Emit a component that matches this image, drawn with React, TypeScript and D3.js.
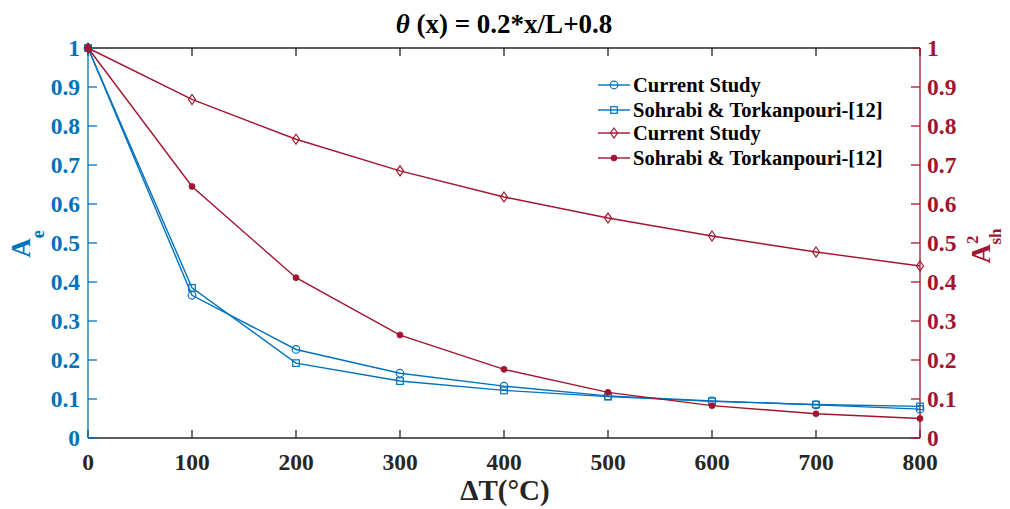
import React from "react";
import * as d3 from "d3";

const dT = [0, 100, 200, 300, 400, 500, 600, 700, 800];
const aeCurrent = [1, 0.366, 0.227, 0.166, 0.133, 0.108, 0.095, 0.085, 0.074];
const aeSohrabi = [1, 0.385, 0.192, 0.146, 0.122, 0.106, 0.094, 0.086, 0.081];
const ashCurrent = [1, 0.868, 0.766, 0.685, 0.618, 0.564, 0.518, 0.477, 0.441];
const ashSohrabi = [1, 0.645, 0.411, 0.264, 0.176, 0.117, 0.083, 0.062, 0.05];
const xTicks = [0, 100, 200, 300, 400, 500, 600, 700, 800];
const yTicks = [0, 0.1, 0.2, 0.3, 0.4, 0.5, 0.6, 0.7, 0.8, 0.9, 1];
const legendLabels = ["Current Study", "Sohrabi & Torkanpouri-[12]", "Current Study", "Sohrabi & Torkanpouri-[12]"];

const BLUE = "#0072BD";
const RED = "#A2142F";
const AX = "#262626";
const FONT = "'Liberation Serif', 'Times New Roman', serif";

const L = 88, R = 920, T = 48, B = 438;

function Marker({ kind, x, y, color }: { kind: string; x: number; y: number; color: string }) {
  if (kind === "circle") return <circle cx={x} cy={y} r={3.8} fill="none" stroke={color} strokeWidth={1.2} />;
  if (kind === "square") return <rect x={x - 3.3} y={y - 3.3} width={6.6} height={6.6} fill="none" stroke={color} strokeWidth={1.2} />;
  if (kind === "diamond") return <path d={`M${x},${y - 5}L${x + 3.5},${y}L${x},${y + 5}L${x - 3.5},${y}Z`} fill="none" stroke={color} strokeWidth={1.2} />;
  return <circle cx={x} cy={y} r={3} fill={color} stroke={color} strokeWidth={0.8} />;
}

export default function App() {
  const x = d3.scaleLinear().domain([0, 800]).range([L, R]);
  const y = d3.scaleLinear().domain([0, 1]).range([B, T]);
  const line = d3.line<number>().x((_, i) => x(dT[i])).y((d) => y(d));

  const series = [
    { data: aeCurrent, color: BLUE, kind: "circle" },
    { data: aeSohrabi, color: BLUE, kind: "square" },
    { data: ashCurrent, color: RED, kind: "diamond" },
    { data: ashSohrabi, color: RED, kind: "dot" },
  ];

  const legendY = [85, 110, 133, 158];
  const TF = 23.5;

  return (
    <svg width={1010} height={509} style={{ position: "absolute", left: 0, top: 0, background: "#fff" }} fontFamily={FONT}>
      <rect width={1010} height={509} fill="#fff" />
      {/* title */}
      <text x={504} y={33} textAnchor="middle" fontSize={27} fontWeight="bold" fill="#000">
        <tspan fontStyle="italic">θ</tspan> (x) = 0.2*x/L+0.8
      </text>
      {/* box top/bottom */}
      <line x1={L} x2={R} y1={T} y2={T} stroke={AX} strokeWidth={1.3} />
      <line x1={L} x2={R} y1={B} y2={B} stroke={AX} strokeWidth={1.3} />
      {/* x ticks */}
      {xTicks.map((t) => (
        <g key={t}>
          <line x1={x(t)} x2={x(t)} y1={B} y2={B - 8} stroke={AX} strokeWidth={1.3} />
          <line x1={x(t)} x2={x(t)} y1={T} y2={T + 8} stroke={AX} strokeWidth={1.3} />
          <text x={x(t)} y={470} textAnchor="middle" fontSize={TF} fontWeight="bold" fill={AX}>{t}</text>
        </g>
      ))}
      {/* left axis */}
      <line x1={L} x2={L} y1={T} y2={B} stroke={BLUE} strokeWidth={1.3} />
      {yTicks.map((t) => (
        <g key={"l" + t}>
          <line x1={L} x2={L + 9} y1={y(t)} y2={y(t)} stroke={BLUE} strokeWidth={1.3} />
          <text x={80} y={y(t) + 8} textAnchor="end" fontSize={TF} fontWeight="bold" fill={BLUE}>{String(t)}</text>
        </g>
      ))}
      {/* right axis */}
      <line x1={R} x2={R} y1={T} y2={B} stroke={RED} strokeWidth={1.3} />
      {yTicks.map((t) => (
        <g key={"r" + t}>
          <line x1={R} x2={R - 9} y1={y(t)} y2={y(t)} stroke={RED} strokeWidth={1.3} />
          <text x={927} y={y(t) + 8} textAnchor="start" fontSize={TF} fontWeight="bold" fill={RED}>{String(t)}</text>
        </g>
      ))}
      {/* axis labels */}
      <text transform="translate(30,244) rotate(-90)" textAnchor="middle" fontSize={27} fontWeight="bold" fill={BLUE}>
        A<tspan dy={14} fontSize={18}>e</tspan>
      </text>
      <text transform="translate(990,246) rotate(-90)" textAnchor="middle" fontSize={27} fontWeight="bold" fill={RED}>
        A<tspan dy={-12} fontSize={17}>2</tspan><tspan dx={-9} dy={23} fontSize={17}>sh</tspan>
      </text>
      <text x={505} y={500} textAnchor="middle" fontSize={29} fontWeight="bold" fill={AX}>ΔT(°C)</text>
      {/* series */}
      {series.map((s, si) => (
        <g key={si}>
          <path d={line(s.data) || ""} fill="none" stroke={s.color} strokeWidth={1.4} />
          {s.data.map((v, i) => (
            <Marker key={i} kind={s.kind} x={x(dT[i])} y={y(v)} color={s.color} />
          ))}
        </g>
      ))}
      {/* legend */}
      {series.map((s, i) => (
        <g key={"lg" + i}>
          <line x1={598} x2={630} y1={legendY[i]} y2={legendY[i]} stroke={s.color} strokeWidth={1.4} />
          <Marker kind={s.kind} x={614} y={legendY[i]} color={s.color} />
          <text x={633} y={legendY[i] + 7} fontSize={20.5} fontWeight="bold" fill="#000">{legendLabels[i]}</text>
        </g>
      ))}
    </svg>
  );
}
